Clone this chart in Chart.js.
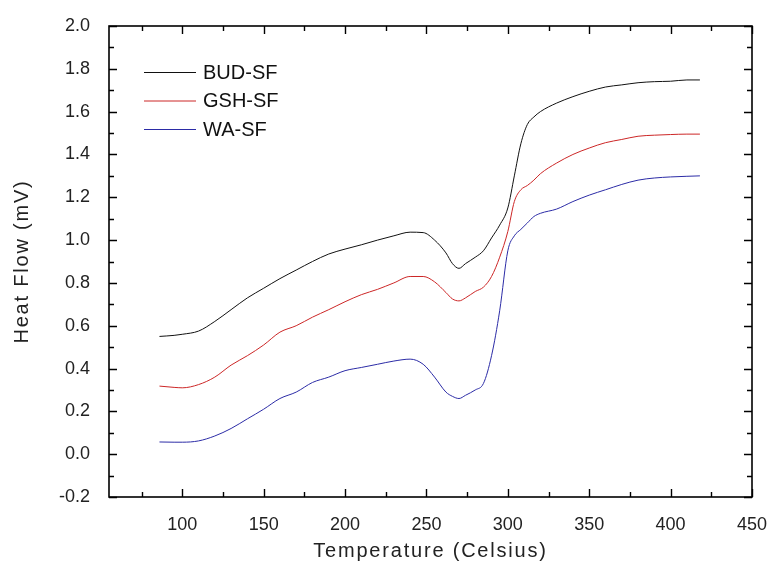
<!DOCTYPE html>
<html>
<head>
  <meta charset="UTF-8">
  <title>Heat Flow vs Temperature</title>
  <script src="https://cdn.jsdelivr.net/npm/chart.js"></script>
  <style>
    html, body { margin: 0; padding: 0; background: #fff; }
    #wrap { width: 771px; height: 563px; }
  </style>
</head>
<body>
  <div id="wrap"><canvas id="dsc"></canvas></div>

  <script>
    // temperatures (Celsius), shared by all three curves
    const temps = [86, 95, 100, 110, 120, 130, 140, 150, 160, 170, 180, 190, 200, 210, 220, 230, 240, 248,
                   255, 262, 266, 270, 274, 280, 285, 290, 295, 300, 304, 308, 312, 316, 320, 330, 340, 350,
                   360, 370, 380, 390, 400, 410, 418];

    const budSF = [0.550, 0.555, 0.560, 0.575, 0.620, 0.675, 0.730, 0.775, 0.820, 0.860, 0.900, 0.935, 0.958, 0.978,
                   1.000, 1.020, 1.037, 1.035, 1.000, 0.940, 0.890, 0.868, 0.890, 0.920, 0.950, 1.010, 1.070, 1.150,
                   1.300, 1.450, 1.540, 1.575, 1.600, 1.640, 1.670, 1.695, 1.715, 1.725, 1.735, 1.740, 1.742, 1.748, 1.748];

    const gshSF = [0.318, 0.312, 0.310, 0.325, 0.360, 0.416, 0.460, 0.510, 0.570, 0.600, 0.640, 0.675, 0.712, 0.745,
                   0.770, 0.800, 0.830, 0.830, 0.805, 0.755, 0.725, 0.716, 0.730, 0.760, 0.780, 0.830, 0.920, 1.040,
                   1.180, 1.235, 1.255, 1.280, 1.310, 1.360, 1.400, 1.430, 1.455, 1.470, 1.485, 1.490, 1.493, 1.495, 1.495];

    const waSF  = [0.057, 0.056, 0.056, 0.062, 0.085, 0.120, 0.165, 0.210, 0.260, 0.290, 0.335, 0.360, 0.390, 0.405,
                   0.420, 0.435, 0.444, 0.420, 0.360, 0.290, 0.270, 0.260, 0.275, 0.300, 0.330, 0.460, 0.670, 0.950,
                   1.020, 1.050, 1.080, 1.110, 1.125, 1.145, 1.180, 1.210, 1.235, 1.260, 1.280, 1.290, 1.295, 1.298, 1.300];

    const seriesNames = ['BUD-SF', 'GSH-SF', 'WA-SF'];
    const seriesColors = ['#111111', '#cc2626', '#2b2ba6'];

    // axis ticks
    const xTicks = [100, 150, 200, 250, 300, 350, 400, 450];
    const xMinor = [75, 125, 175, 225, 275, 325, 375, 425];
    const yTicks = [-0.2, 0.0, 0.2, 0.4, 0.6, 0.8, 1.0, 1.2, 1.4, 1.6, 1.8, 2.0];
    const yMinor = [-0.1, 0.1, 0.3, 0.5, 0.7, 0.9, 1.1, 1.3, 1.5, 1.7, 1.9];

    const font = 'Arial, "Liberation Sans", sans-serif';

    function pts(ys) {
      return temps.map((t, i) => ({ x: t, y: ys[i] }));
    }

    // frame + inward tick marks on all four sides
    const framePlugin = {
      id: 'frame',
      afterDraw(chart) {
        const { ctx, chartArea: a, scales: { x, y } } = chart;
        ctx.save();
        ctx.strokeStyle = '#000';
        ctx.lineWidth = 1.6;
        ctx.strokeRect(a.left, a.top, a.right - a.left, a.bottom - a.top);
        ctx.lineWidth = 1.4;
        ctx.beginPath();
        const xt = (v, len) => {
          const px = Math.round(x.getPixelForValue(v)) + 0.5;
          ctx.moveTo(px, a.bottom); ctx.lineTo(px, a.bottom - len);
          ctx.moveTo(px, a.top); ctx.lineTo(px, a.top + len);
        };
        const yt = (v, len) => {
          const py = Math.round(y.getPixelForValue(v)) + 0.5;
          ctx.moveTo(a.left, py); ctx.lineTo(a.left + len, py);
          ctx.moveTo(a.right, py); ctx.lineTo(a.right - len, py);
        };
        xTicks.forEach(v => xt(v, 8));
        xMinor.forEach(v => xt(v, 5));
        yTicks.forEach(v => yt(v, 8));
        yMinor.forEach(v => yt(v, 5));
        ctx.stroke();
        ctx.restore();
      }
    };

    // legend inside the plot, top-left
    const legendPlugin = {
      id: 'innerLegend',
      afterDatasetsDraw(chart) {
        const { ctx } = chart;
        ctx.save();
        ctx.font = '20px ' + font;
        ctx.textBaseline = 'middle';
        chart.data.datasets.forEach((ds, i) => {
          const yy = 72 + i * 28.5;
          ctx.strokeStyle = ds.borderColor;
          ctx.lineWidth = 1;
          ctx.beginPath();
          ctx.moveTo(144, yy + 0.5);
          ctx.lineTo(196, yy + 0.5);
          ctx.stroke();
          ctx.fillStyle = '#111';
          ctx.fillText(ds.label, 203, yy + 1);
        });
        ctx.restore();
      }
    };

    // axis titles are drawn slightly letter-spaced in the original
    const spacedTitles = {
      id: 'spacedTitles',
      afterUpdate(chart) {
        ['x', 'y'].forEach(id => {
          const s = chart.scales[id];
          if (s._spaced) return;
          const orig = s.drawTitle;
          s.drawTitle = function () {
            this.ctx.save();
            this.ctx.letterSpacing = '1.8px';
            orig.call(this);
            this.ctx.restore();
          };
          s._spaced = true;
        });
      }
    };

    const ctx = document.getElementById('dsc').getContext('2d');
    new Chart(ctx, {
      type: 'line',
      data: {
        datasets: [budSF, gshSF, waSF].map((ys, i) => ({
          label: seriesNames[i],
          data: pts(ys),
          borderColor: seriesColors[i],
          borderWidth: 1,
          pointRadius: 0,
          tension: 0.25,
          cubicInterpolationMode: 'monotone',
          fill: false
        }))
      },
      options: {
        responsive: true,
        maintainAspectRatio: false,
        animation: false,
        layout: { padding: { top: 26, right: 19, left: 0, bottom: 0 } },
        plugins: {
          legend: { display: false },
          tooltip: { enabled: false }
        },
        scales: {
          x: {
            type: 'linear',
            min: 55,
            max: 450,
            afterFit: s => { s.height = 66; s.paddingLeft = 0; s.paddingRight = 0; },
            afterBuildTicks: s => { s.ticks = xTicks.map(v => ({ value: v })); },
            grid: { display: false },
            border: { display: false },
            ticks: {
              padding: 9,
              color: '#222',
              maxRotation: 0,
              autoSkip: false,
              font: { family: font, size: 18 }
            },
            title: {
              display: true,
              text: 'Temperature (Celsius)',
              color: '#222',
              font: { family: font, size: 20 },
              padding: { top: 0, bottom: 0 }
            }
          },
          y: {
            min: -0.2,
            max: 2.0,
            afterFit: s => { s.width = 109; s.paddingTop = 0; s.paddingBottom = 0; },
            afterBuildTicks: s => { s.ticks = yTicks.map(v => ({ value: v })); },
            grid: { display: false },
            border: { display: false },
            ticks: {
              padding: 11,
              color: '#222',
              autoSkip: false,
              font: { family: font, size: 18 },
              callback: v => v.toFixed(1)
            },
            title: {
              display: true,
              text: 'Heat Flow (mV)',
              color: '#222',
              font: { family: font, size: 20 },
              padding: { top: 10, bottom: 0 }
            }
          }
        }
      },
      plugins: [framePlugin, legendPlugin, spacedTitles]
    });
  </script>
</body>
</html>
